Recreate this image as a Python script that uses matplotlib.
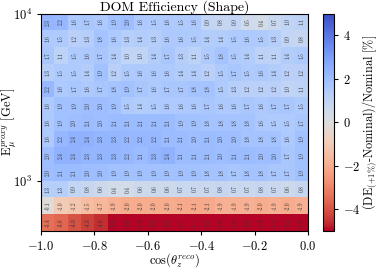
import matplotlib
matplotlib.use('Agg')
import matplotlib.pyplot as plt
import numpy as np

plt.rcParams.update({
    'font.family': 'serif',
    'font.serif': ['cmr10', 'DejaVu Serif'],
    'mathtext.fontset': 'cm',
    'axes.formatter.use_mathtext': True,
    'axes.unicode_minus': True,
})

# bins
cos_edges = np.linspace(-1.0, 0.0, 21)
log_e_edges = np.linspace(2.7, 4.0, 14)

# percent difference, one list per energy bin (top row = highest energy)
row_3p9 = [2.3, 2.2, 1.6, 1.7, 1.6, 1.9, 2.0, 1.6, 1.5, 1.6, 1.5, 1.6, 0.9, 0.8, 0.9, 0.5, 0.4, 0.7, 1.0, 1.1]
row_3p8 = [1.6, 1.5, 1.2, 1.3, 1.8, 1.6, 1.3, 1.4, 1.3, 1.6, 1.6, 1.5, 1.4, 1.4, 1.5, 1.6, 1.5, 1.3, 0.9, 0.8]
row_3p7 = [1.7, 1.1, 1.5, 1.6, 1.7, 1.4, 1.0, 1.0, 1.4, 1.7, 1.3, 1.1, 1.5, 1.8, 1.5, 1.4, 1.1, 1.1, 1.4, 1.5]
row_3p6 = [1.3, 1.5, 1.5, 1.4, 1.9, 1.2, 1.5, 1.6, 1.6, 1.6, 1.4, 1.4, 1.2, 1.5, 1.7, 1.5, 1.6, 1.4, 1.2, 1.2]
row_3p5 = [2.2, 1.6, 1.7, 1.6, 1.7, 1.8, 1.9, 1.7, 1.6, 1.7, 1.7, 1.8, 1.8, 1.5, 1.3, 1.2, 1.2, 1.2, 1.0, 1.1]
row_3p4 = [1.6, 1.9, 1.9, 2.0, 2.0, 1.9, 1.5, 1.4, 1.5, 1.6, 1.6, 1.6, 1.7, 1.6, 1.6, 1.7, 1.6, 1.7, 1.7, 1.5]
row_3p3 = [1.6, 1.9, 2.0, 2.1, 2.0, 2.1, 2.1, 2.1, 2.1, 2.1, 1.9, 1.9, 1.8, 1.8, 1.8, 1.8, 1.6, 1.5, 1.5, 1.7]
row_3p2 = [1.6, 2.2, 2.4, 2.4, 2.3, 2.3, 2.2, 2.2, 2.2, 2.1, 2.1, 2.0, 2.1, 2.0, 2.0, 1.8, 1.8, 1.8, 1.6, 1.9]
row_3p1 = [2.0, 2.4, 2.4, 2.3, 2.3, 2.3, 2.2, 2.1, 2.3, 2.4, 2.1, 2.1, 2.1, 2.0, 2.1, 2.1, 2.0, 2.0, 1.7, 1.9]
row_3p0 = [2.0, 2.1, 2.1, 2.0, 2.0, 1.9, 1.9, 1.9, 1.9, 1.9, 1.9, 1.9, 1.8, 1.8, 1.7, 1.8, 1.8, 1.7, 1.7, 1.9]
row_2p9 = [1.3, 1.3, 0.9, 0.8, 0.6, 0.4, 0.4, 0.6, 0.6, 0.6, 0.7, 0.7, 0.7, 0.8, 0.7, 0.7, 0.8, 0.7, 0.6, 0.8]
row_2p8 = [-0.1, -1.0, -1.2, -1.5, -1.7, -1.9, -2.0, -2.0, -2.0, -2.0, -2.1, -2.1, -2.1, -1.9, -1.9, -1.9, -2.0, -1.9, -2.0, -1.9]
row_2p7 = [-3.4, -3.6, -4.0, -4.3, -4.6, -5.0, -5.0, -5.3, -5.5, -5.5, -5.7, -5.5, -5.7, -5.6, -5.0, -5.8, -5.4, -5.2, -5.1, -5.0]

rows = [row_2p7, row_2p8, row_2p9, row_3p0, row_3p1, row_3p2, row_3p3,
        row_3p4, row_3p5, row_3p6, row_3p7, row_3p8, row_3p9]
Z = np.array(rows)

x_edges = cos_edges
y_edges = 10 ** log_e_edges

fig = plt.figure(figsize=(3.79, 2.70), dpi=100)
ax = fig.add_axes([0.108, 0.145, 0.705, 0.804])
cax = fig.add_axes([0.852, 0.145, 0.029, 0.804])

mesh = ax.pcolormesh(x_edges, y_edges, Z, cmap='coolwarm_r', vmin=-5, vmax=5)
ax.set_yscale('log')
ax.set_xlim(-1, 0)
ax.set_ylim(y_edges[0], y_edges[-1])
ax.minorticks_off()

xc = 0.5 * (x_edges[:-1] + x_edges[1:])
yc = np.sqrt(y_edges[:-1] * y_edges[1:])
for i, y in enumerate(yc):
    for j, x in enumerate(xc):
        ax.text(x, y, f'{Z[i, j]:.1f}', rotation=90, ha='center', va='center',
                fontsize=3.8, color='#333333')

ax.set_xticks([-1.0, -0.8, -0.6, -0.4, -0.2, 0.0])
ax.tick_params(labelsize=9, length=3)
ax.set_xlabel(r'$\cos(\theta_z^{reco})$', fontsize=9, labelpad=-1)
ax.set_ylabel(r'E$_\mu^{proxy}$ [GeV]', fontsize=9)
ax.yaxis.set_label_coords(-0.083, 0.5)
ax.set_title('DOM Efficiency (Shape)', fontsize=10, pad=2)

cb = fig.colorbar(mesh, cax=cax)
cb.set_ticks([-4, -2, 0, 2, 4])
cb.ax.tick_params(labelsize=9, length=3)
cb.set_label(r'(DE$_{(+1\%)}$-Nominal)/Nominal [%]', fontsize=8.8, labelpad=0)

fig.savefig('out.png', dpi=100)
